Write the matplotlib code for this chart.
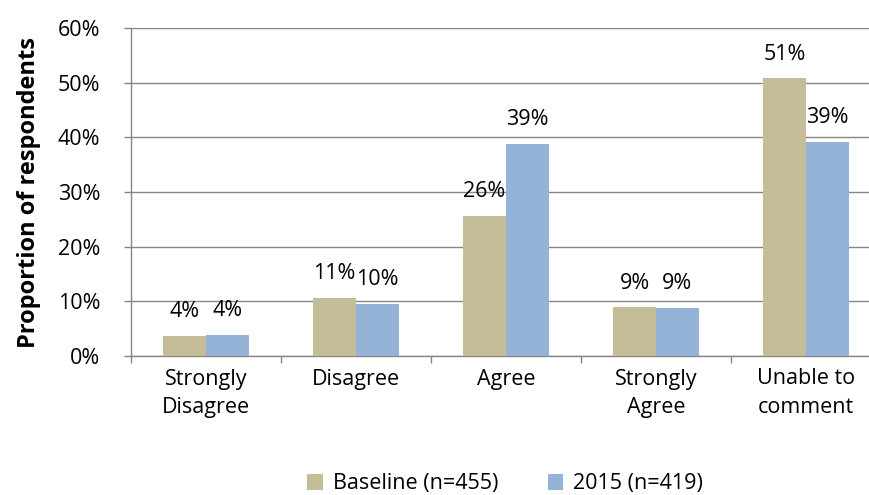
import matplotlib
matplotlib.use("Agg")
import matplotlib.pyplot as plt
import numpy as np

categories = ["Strongly\nDisagree", "Disagree", "Agree", "Strongly\nAgree", "Unable to\ncomment"]
baseline = [3.7, 10.7, 25.6, 8.9, 50.8]
y2015 = [3.8, 9.5, 38.8, 8.8, 39.2]
series_names = ["Baseline (n=455)", "2015 (n=419)"]
baseline_labels = ["4%", "11%", "26%", "9%", "51%"]
y2015_labels = ["4%", "10%", "39%", "9%", "39%"]
yticks = [0, 10, 20, 30, 40, 50, 60]

plt.rcParams["font.family"] = ["Open Sans", "DejaVu Sans"]
FS = 15.5

W, H = 869, 495
fig = plt.figure(figsize=(W / 100, H / 100), dpi=100)
# plot area runs past the right edge of the canvas
left, right, top, bottom = 131, 881, 28, 356
ax = fig.add_axes([left / W, 1 - bottom / H, (right - left) / W, (bottom - top) / H])

x = np.arange(len(categories))
bw = 1 / 3.5
c_base = "#C4BD97"
c_2015 = "#95B3D7"
b1 = ax.bar(x - bw / 2, baseline, bw, color=c_base, label=series_names[0], zorder=3)
b2 = ax.bar(x + bw / 2, y2015, bw, color=c_2015, label=series_names[1], zorder=3)

for bars, labs in ((b1, baseline_labels), (b2, y2015_labels)):
    for rect, lab in zip(bars, labs):
        ax.annotate(lab, (rect.get_x() + rect.get_width() / 2, rect.get_height()),
                    xytext=(0, 13.5), textcoords="offset points", ha="center", va="baseline",
                    fontsize=FS, color="#000000", zorder=4)

ax.set_xlim(-0.5, len(categories) - 0.5)
ax.set_ylim(0, 60)
ax.set_yticks(yticks)
ax.set_yticklabels([f"{v}%" for v in yticks], fontsize=FS)
ax.yaxis.grid(True, color="#868686", linewidth=1, zorder=0)
ax.set_axisbelow(True)

# category boundaries carry the tick marks; labels sit at the centres
ax.set_xticks(np.arange(len(categories) + 1) - 0.5)
ax.set_xticklabels([])
ax.set_xticks(x, minor=True)
ax.set_xticklabels(categories, minor=True, fontsize=FS, linespacing=1.45)
ax.tick_params(axis="x", which="minor", length=0, pad=9)
ax.tick_params(axis="x", which="major", length=5, color="#868686", width=1)
ax.tick_params(axis="y", length=5, color="#868686", width=1, pad=17)

for s in ("top", "right"):
    ax.spines[s].set_visible(False)
for s in ("left", "bottom"):
    ax.spines[s].set_color("#868686")
    ax.spines[s].set_linewidth(1)

ax.set_ylabel("Proportion of respondents", fontsize=17, fontweight="bold", labelpad=12)

fig.legend(handles=[b1, b2], labels=series_names, loc="center",
           bbox_to_anchor=(505 / W, 1 - 484 / H), ncol=2, frameon=False,
           fontsize=FS, handlelength=0.72, handleheight=0.72, handletextpad=0.45,
           columnspacing=2.3, borderaxespad=0, borderpad=0)

fig.savefig("out.png", dpi=100)
